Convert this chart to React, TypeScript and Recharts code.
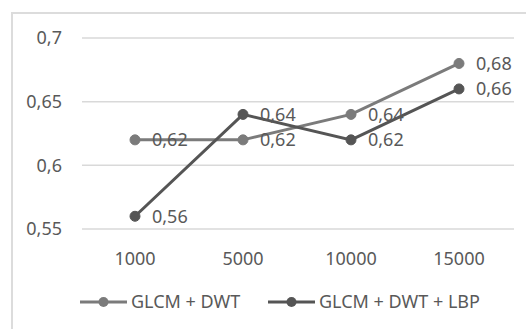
import { LineChart, Line, XAxis, YAxis, CartesianGrid, Legend, LabelList } from 'recharts';

// values
const sizes = ['1000', '5000', '10000', '15000'];
const glcmDwt = [0.62, 0.62, 0.64, 0.68];
const glcmDwtLbp = [0.56, 0.64, 0.62, 0.66];
const yTicks = [0.55, 0.6, 0.65, 0.7];

const data = sizes.map((s, i) => ({
  name: s,
  a: glcmDwt[i],
  b: glcmDwtLbp[i],
}));

const FONT = '"Noto Sans", sans-serif';
const TEXT = '#595959';
const LIGHT = '#7b7b7b';
const DARK = '#555555';

const fmt = (v: number) => String(v).replace('.', ',');

const LegendBox = () => {
  const items = [
    { label: 'GLCM + DWT', color: LIGHT, x: 80 },
    { label: 'GLCM + DWT + LBP', color: DARK, x: 268 },
  ];
  return (
    <svg width={526} height={30} style={{ display: 'block' }}>
      {items.map((it) => (
        <g key={it.label}>
          <line x1={it.x} y1={15} x2={it.x + 47} y2={15} stroke={it.color} strokeWidth={3} />
          <circle cx={it.x + 23.5} cy={15} r={5} fill={it.color} />
          <text x={it.x + 51} y={21} fontFamily={FONT} fontSize={18} fill={TEXT}>
            {it.label}
          </text>
        </g>
      ))}
    </svg>
  );
};

export default function App() {
  return (
    <div style={{ position: 'absolute', left: 0, top: 0, width: 526, height: 329, background: '#fff', overflow: 'hidden' }}>
      <div
        style={{
          position: 'absolute',
          left: 11,
          top: 12,
          width: 530,
          height: 340,
          border: '2px solid #dcdcdc',
          boxSizing: 'border-box',
        }}
      />
      <div style={{ position: 'absolute', left: 0, top: 0 }}>
        <LineChart
          width={526}
          height={329}
          data={data}
          margin={{ top: 38, right: 12, left: 22, bottom: 30 }}
          style={{ fontFamily: FONT }}
        >
          <CartesianGrid vertical={false} stroke='#d9d9d9' strokeWidth={1.5} />
          <XAxis
            dataKey='name'
            axisLine={false}
            tickLine={false}
            tickSize={0}
            tickMargin={23}
            padding={{ left: 53, right: 55 }}
            tick={{ fill: TEXT, fontSize: 18, fontFamily: FONT }}
            height={40}
          />
          <YAxis
            domain={[0.55, 0.7]}
            ticks={yTicks}
            tickFormatter={fmt}
            axisLine={false}
            tickLine={false}
            tickSize={0}
            tickMargin={20}
            width={60}
            tick={{ fill: TEXT, fontSize: 18, fontFamily: FONT }}
          />
          <Legend
            content={<LegendBox />}
            wrapperStyle={{ position: 'absolute', left: 0, top: 287, width: 526, height: 30 }}
          />
          <Line
            dataKey='a'
            name='GLCM + DWT'
            stroke={LIGHT}
            strokeWidth={3}
            dot={{ r: 5, fill: LIGHT, stroke: LIGHT, strokeWidth: 1 }}
            isAnimationActive={false}
          >
            <LabelList dataKey='a' position='right' offset={17} formatter={fmt} fill={TEXT} fontSize={18} fontFamily={FONT} />
          </Line>
          <Line
            dataKey='b'
            name='GLCM + DWT + LBP'
            stroke={DARK}
            strokeWidth={3}
            dot={{ r: 5, fill: DARK, stroke: DARK, strokeWidth: 1 }}
            isAnimationActive={false}
          >
            <LabelList dataKey='b' position='right' offset={17} formatter={fmt} fill={TEXT} fontSize={18} fontFamily={FONT} />
          </Line>
        </LineChart>
      </div>
    </div>
  );
}
